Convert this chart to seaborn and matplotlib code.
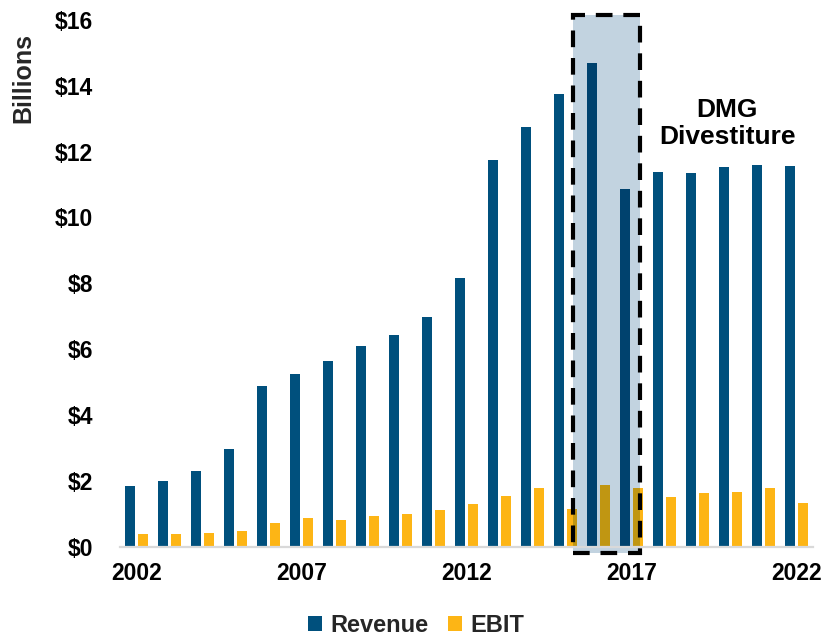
import numpy as np
import pandas as pd
import matplotlib
matplotlib.use("Agg")
import matplotlib.pyplot as plt
from matplotlib.patches import Rectangle
from matplotlib.colors import to_rgb
import seaborn as sns

# Annual figures, $ billions
years = list(range(2002, 2023))
revenue = [1.84, 2.00, 2.29, 2.96, 4.87, 5.24, 5.64, 6.09, 6.42, 6.97, 8.16,
           11.73, 12.76, 13.74, 14.70, 10.85, 11.37, 11.35, 11.52, 11.58, 11.56]
ebit = [0.38, 0.37, 0.41, 0.46, 0.72, 0.86, 0.81, 0.94, 0.99, 1.12, 1.28,
        1.53, 1.79, 1.15, 1.88, 1.79, 1.50, 1.63, 1.67, 1.78, 1.33]
series_names = ["Revenue", "EBIT"]
tick_years = ["2002", "2007", "2012", "2017", "2022"]
y_ticks = [0, 2, 4, 6, 8, 10, 12, 14, 16]

REV_COLOR = "#00507d"
EBIT_COLOR = "#fdb515"
BOX_COLOR = "#c2d3e0"

df = pd.DataFrame({
    "year": [str(y) for y in years] * 2,
    "metric": [series_names[0]] * len(years) + [series_names[1]] * len(years),
    "value": revenue + ebit,
})

sns.set_theme(style="white")
plt.rcParams["font.family"] = ["Liberation Sans", "DejaVu Sans"]
plt.rcParams["font.weight"] = "bold"

fig = plt.figure(figsize=(8.24, 6.36), dpi=100)
ax = fig.add_axes([0.1456, 0.1407, 0.8410, 0.8279])

sns.barplot(data=df, x="year", y="value", hue="metric",
            palette=[REV_COLOR, EBIT_COLOR], saturation=1,
            width=0.8, gap=0.2, errorbar=None, linewidth=0, ax=ax)

ax.set_xlim(-0.5, len(years) - 0.5)
ax.set_ylim(0, 16)

# Shaded highlight around the divestiture years
box_x0, box_x1 = 13.23, 15.26
box_y0, box_y1 = -0.2, 16.15
box = Rectangle((box_x0, box_y0), box_x1 - box_x0, box_y1 - box_y0,
                facecolor=BOX_COLOR, edgecolor="none", zorder=0.5, clip_on=False)
ax.add_patch(box)

# Bars seen through the highlight take a multiplied tint
box_rgb = np.array(to_rgb(BOX_COLOR))
for cont in ax.containers:
    for bar in cont:
        tint = np.array(to_rgb(bar.get_facecolor())) * box_rgb
        over = Rectangle(bar.get_xy(), bar.get_width(), bar.get_height(),
                         facecolor=tint, edgecolor="none", zorder=bar.get_zorder() + 0.1)
        ax.add_patch(over)
        over.set_clip_path(box)

outline = Rectangle((box_x0, box_y0), box_x1 - box_x0, box_y1 - box_y0,
                    facecolor="none", edgecolor="black", linewidth=3,
                    linestyle=(0, (4, 2.6)), zorder=6, clip_on=False)
ax.add_patch(outline)

ax.text(17.9, 12.86, "DMG\nDivestiture", ha="center", va="center",
        fontsize=19, fontweight="bold", linespacing=1.15, color="black")

# Axes styling
for side in ("left", "top", "right"):
    ax.spines[side].set_visible(False)
ax.spines["bottom"].set_color("#d9d9d9")
ax.spines["bottom"].set_linewidth(1.6)

ax.set_xticks([years.index(int(t)) for t in tick_years])
ax.set_xticklabels(tick_years, fontsize=16.5, fontweight="bold")
ax.set_yticks(y_ticks)
ax.set_yticklabels([f"${v}" for v in y_ticks], fontsize=16.5, fontweight="bold")
ax.tick_params(axis="x", length=0, pad=11, colors="black")
ax.tick_params(axis="y", length=0, pad=19.5, colors="black")
ax.set_xlabel("")
ax.set_ylabel("")

fig.text(0.028, 0.878, "Billions", rotation=90, ha="center", va="center",
         fontsize=18, fontweight="bold")

handles, labels = ax.get_legend_handles_labels()
ax.legend_.remove()
fig.legend(handles, labels, loc="center", bbox_to_anchor=(0.505, 0.017),
           ncol=2, frameon=False, handlelength=0.6, handleheight=0.6,
           handletextpad=0.35, columnspacing=0.8, prop={"weight": "bold", "size": 17})

fig.savefig("out.png", dpi=100)
